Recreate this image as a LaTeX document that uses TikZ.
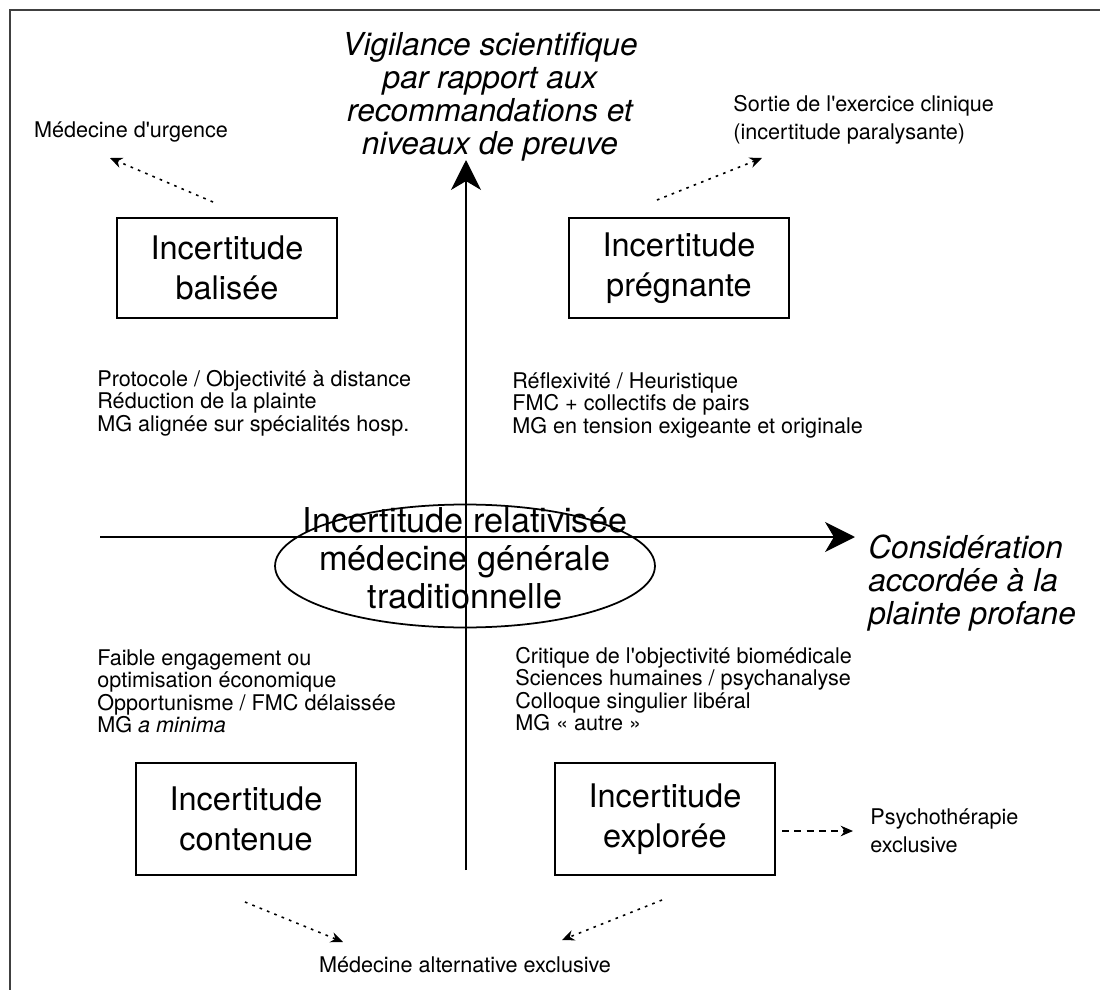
\documentclass[tikz,border=0pt]{standalone}
\usepackage{fontspec}
\setmainfont{TeX Gyre Heros}
\usetikzlibrary{arrows.meta, positioning, shapes.geometric}
% straight apostrophe (no tex-text mapping)
\font\aposfont="TeX Gyre Heros" at 12.3pt
\newcommand{\apos}{{\aposfont'}}

\begin{document}
\begin{tikzpicture}[x=0.02cm,y=-0.02cm,
        box node/.style={rectangle,draw,line width=1.1pt,minimum width=4.4cm,minimum height=2cm,align=center,font=\fontsize{18.5}{22.5}\selectfont},
        small text/.style={align=left,inner sep=0pt,font=\fontsize{12.3}{12.8}\selectfont},
        outer text/.style={align=left,inner sep=0pt,font=\fontsize{12.3}{16}\selectfont},
        axis text/.style={inner sep=0pt,font=\fontsize{18}{18.7}\selectfont\itshape},
        axis/.style={-{Stealth[length=17pt,width=17pt,inset=5pt]},line width=1.5pt},
        dots/.style={-{Stealth[length=7pt,width=6pt]},line width=0.9pt,dash pattern=on 1.5pt off 3pt},
        dashes/.style={-{Stealth[length=7pt,width=6pt]},line width=0.9pt,dash pattern=on 4pt off 3pt}]
    \useasboundingbox (0,0) rectangle (1100,990);
    \draw[line width=1pt,black!75] (10,990) -- (10,10) -- (1100,10);

    % axes
    \coordinate (ybot) at (466,870);
    \coordinate (ytop) at (466,160);
    \coordinate (xleft) at (100,537);
    \coordinate (xright) at (855,537);
    \draw[axis] (ybot) -- (ytop);
    \draw[axis] (xleft) -- (xright);

    \node[axis text,align=center] (vig) at (490,97) {Vigilance scientifique\\par rapport aux\\recommandations et\\niveaux de preuve};
    \node[axis text,align=left,anchor=west] (cons) at (868,583) {Considération\\accordée à la\\plainte profane};

    % the four boxes
    \node[box node] (bal) at (227,268) {Incertitude\\balisée};
    \node[box node] (preg) at (679,268) {Incertitude\\prégnante};
    \node[box node,minimum height=2.24cm] (cont) at (246,819) {Incertitude\\contenue};
    \node[box node,minimum height=2.24cm] (expl) at (665,819) {Incertitude\\explorée};

    % centre
    \node[ellipse,draw,line width=1pt,minimum width=7.6cm,minimum height=2.46cm,inner sep=0pt] (rel) at (465,566) {};
    \node[align=center,inner sep=0pt,font=\fontsize{19.5}{21.5}\selectfont] (reltext) at (465,558) {Incertitude relativisée\\médecine générale\\traditionnelle};

    % quadrant texts
    \node[small text,anchor=north west] (tl) at (97,370) {Protocole / Objectivité à distance\\Réduction de la plainte\\MG alignée sur spécialités hosp.};
    \node[small text,anchor=north west] (tr) at (512,372) {Réflexivité / Heuristique\\FMC + collectifs de pairs\\MG en tension exigeante et originale};
    \node[small text,anchor=north west] (bl) at (97,649) {Faible engagement ou\\optimisation économique\\Opportunisme / FMC délaissée\\MG \textit{a minima}};
    \node[small text,anchor=north west] (br) at (515,647) {Critique de l\apos objectivité biomédicale\\Sciences humaines / psychanalyse\\Colloque singulier libéral\\MG « autre »};

    % outside the frame of practice
    \node[small text] (urg) at (131,132) {Médecine d\apos urgence};
    \node[outer text,anchor=north west] (sortie) at (733,95) {Sortie de l\apos exercice clinique\\(incertitude paralysante)};
    \node[outer text,anchor=north west] (psy) at (870,808) {Psychothérapie\\exclusive};
    \node[small text] (alt) at (465,965) {Médecine alternative exclusive};

    \coordinate (bal-out) at (213,202);
    \coordinate (urg-in) at (110,158);
    \coordinate (preg-out) at (657,200);
    \coordinate (sortie-in) at (762,158);
    \coordinate (cont-out) at (245,902);
    \coordinate (alt-in1) at (343,942);
    \coordinate (expl-out) at (662,900);
    \coordinate (alt-in2) at (562,940);
    \coordinate (expl-right) at (782,831);
    \coordinate (psy-in) at (853,831);

    \draw[dots] (bal-out) -- (urg-in);
    \draw[dots] (preg-out) -- (sortie-in);
    \draw[dots] (cont-out) -- (alt-in1);
    \draw[dots] (expl-out) -- (alt-in2);
    \draw[dashes] (expl-right) -- (psy-in);
\end{tikzpicture}
\end{document}
